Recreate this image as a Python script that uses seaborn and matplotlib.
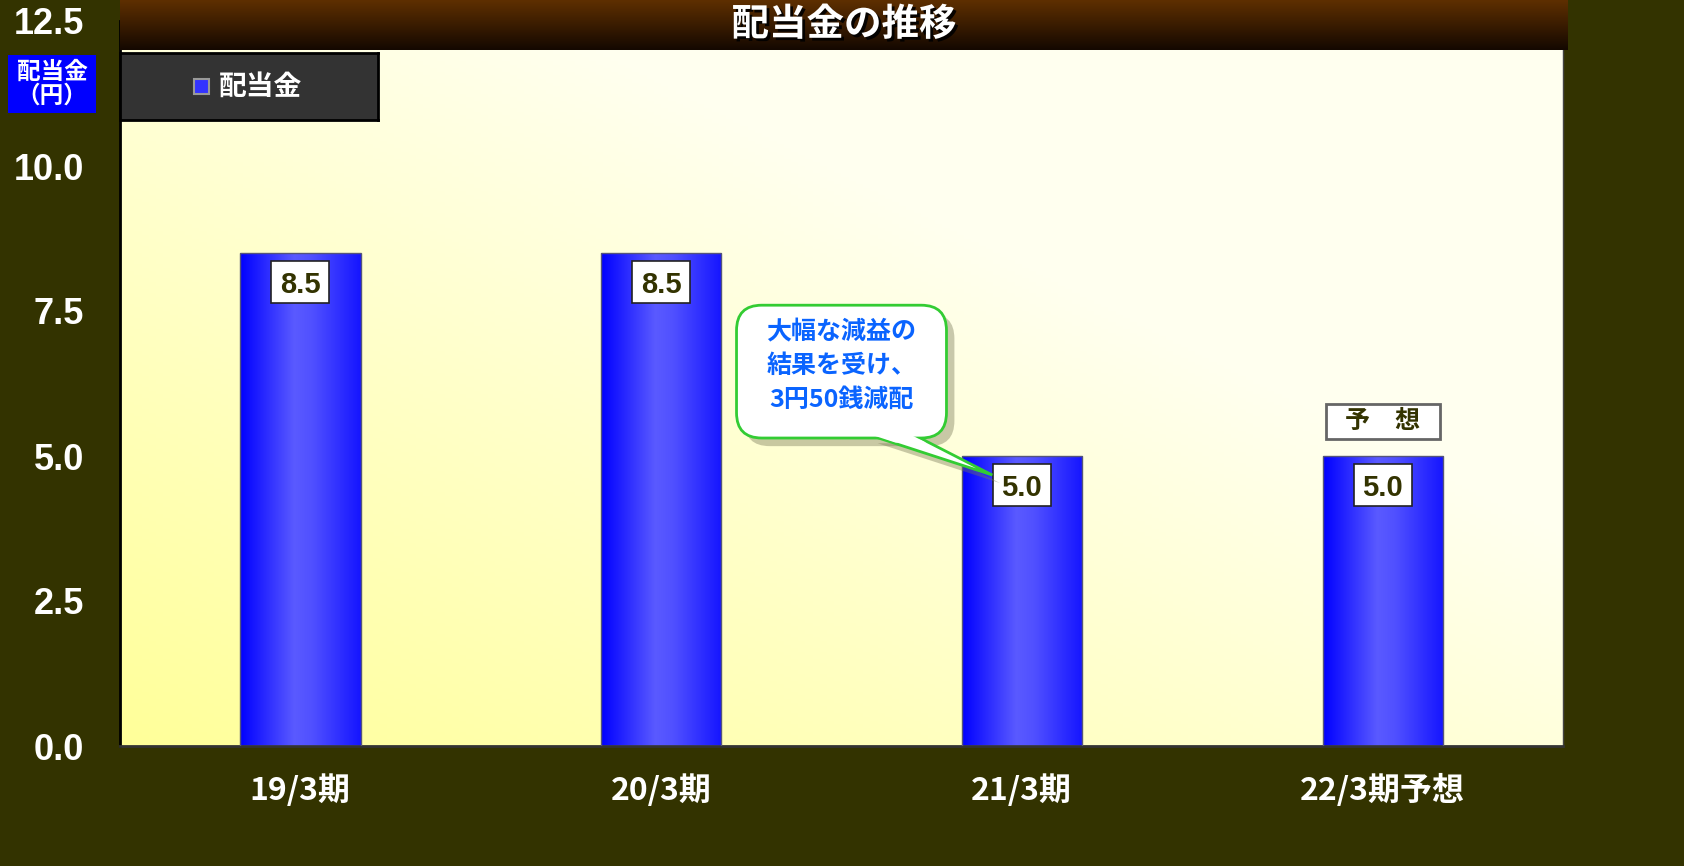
import numpy as np
import matplotlib
matplotlib.use('Agg')
import matplotlib.pyplot as plt
import seaborn as sns
from matplotlib.patches import Rectangle, FancyBboxPatch, Polygon
from matplotlib.colors import LinearSegmentedColormap
import matplotlib.patheffects as pe

# data
categories = ['19/3期', '20/3期', '21/3期', '22/3期予想']
dividend = [8.5, 8.5, 5.0, 5.0]
yticks = [0.0, 2.5, 5.0, 7.5, 10.0, 12.5]
series_name = '配当金'
title = '配当金の推移'
ylabel = '配当金\n（円）'
note = '大幅な減益の\n結果を受け、\n3円50銭減配'
forecast = '予　想'

sns.set_style('white')
plt.rcParams['font.family'] = ['Noto Sans CJK JP', 'DejaVu Sans']
num_font = ['Liberation Sans', 'DejaVu Sans']

W, H = 1684, 866
fig = plt.figure(figsize=(W / 100, H / 100), dpi=100, facecolor='#333300')
ax = fig.add_axes([120 / W, 120 / H, 1443 / W, 725 / H])

# plot background, diagonal yellow gradient
u = np.linspace(0, 1, 200)
uu, vv = np.meshgrid(u, u)
t = np.clip((uu + vv) / 1.3, 0, 1)[..., None]
c0 = np.array([1.0, 1.0, 0.60])
c1 = np.array([1.0, 1.0, 0.94])
bg = c0 * (1 - t) + c1 * t
ax.imshow(bg, extent=[-0.5, 3.5, 0, 12.5], origin='lower', aspect='auto', zorder=0)

sns.barplot(x=categories, y=dividend, color='#2a2aff', width=1 / 3, saturation=1,
            errorbar=None, edgecolor='#55557a', linewidth=1, ax=ax, zorder=3)

# horizontal gradient on bars
bar_cmap = LinearSegmentedColormap.from_list(
    'bar', [(0, '#0000ff'), (0.45, '#5a5aff'), (0.6, '#5050ff'), (1, '#1515ff')])
for p in ax.patches:
    x0, w, h = p.get_x(), p.get_width(), p.get_height()
    p.set_facecolor('none')
    ax.imshow(np.linspace(0, 1, 256)[None, :], cmap=bar_cmap, extent=[x0, x0 + w, 0, h],
              aspect='auto', zorder=2)

ax.set_xlim(-0.5, 3.5)
ax.set_ylim(0, 12.5)
ax.set_xlabel('')
ax.set_ylabel('')

# value labels
for i, v in enumerate(dividend):
    ax.add_patch(Rectangle((i - 0.0805, v - 0.5 - 0.362), 0.161, 0.724, fc='white',
                           ec='#222222', lw=1.2, zorder=4))
    ax.text(i, v - 0.5, f'{v:.1f}', ha='center', va='center_baseline', fontsize=21,
            fontweight='bold', color='#333300', family=num_font, zorder=5)

# forecast tag
ax.add_patch(Rectangle((3 - 0.158, 5.6 - 0.30), 0.316, 0.60, fc='white', ec='#666666',
                       lw=2, zorder=4))
ax.text(3, 5.6, forecast, ha='center', va='center', fontsize=18, fontweight='bold',
        color='#333300', zorder=5)

# callout
bx0, bx1, by0, by1 = 2 - 0.791, 2 - 0.209, 5.31, 7.60
tip = (1.918, 4.672)
base = (1.578, 1.702)
sx, sy = 0.022, 0.14
style = 'round,pad=0,rounding_size=0.07'
ax.add_patch(FancyBboxPatch((bx0 + sx, by0 - sy), bx1 - bx0, by1 - by0, boxstyle=style,
                            mutation_aspect=6.22, fc='#777755', ec='none', alpha=0.4, zorder=5))
ax.add_patch(Polygon([(base[0] + sx, by0 - sy + 0.05), (base[1] + sx, by0 - sy + 0.05),
                      (tip[0] + sx, tip[1] - sy)], fc='#777755', ec='none', alpha=0.4, zorder=5))
ax.add_patch(Polygon([(base[0], by0 + 0.05), (base[1], by0 + 0.05), tip], fc='white',
                     ec='#33cc33', lw=2, zorder=6))
ax.add_patch(FancyBboxPatch((bx0, by0), bx1 - bx0, by1 - by0, boxstyle=style,
                            mutation_aspect=6.22, fc='white', ec='#33cc33', lw=2, zorder=6))


def edge_x(xa, y, yb):
    f = (yb - y) / (yb - tip[1])
    return xa + (tip[0] - xa) * f


ya, yb2 = by0 + 0.04, by0 - 0.08
cover = [(edge_x(base[0], ya, by0 + 0.05) + 0.008, ya), (edge_x(base[1], ya, by0 + 0.05) - 0.008, ya),
         (edge_x(base[1], yb2, by0 + 0.05) - 0.008, yb2), (edge_x(base[0], yb2, by0 + 0.05) + 0.008, yb2)]
ax.add_patch(Polygon(cover, fc='white', ec='none', zorder=7))
ax.text(2 - 0.5, 6.55, note, ha='center', va='center', fontsize=18, fontweight='bold',
        color='#0a64ff', linespacing=1.5, zorder=8)

# axes styling
ax.spines['top'].set_visible(False)
ax.spines['left'].set_color('black')
ax.spines['left'].set_linewidth(2)
ax.spines['bottom'].set_color('#333333')
ax.spines['bottom'].set_linewidth(2)
ax.spines['right'].set_color('#444444')
ax.spines['right'].set_linewidth(1)

ax.set_yticks(yticks)
ax.set_yticklabels([f'{v:.1f}' for v in yticks], family=num_font, fontweight='bold',
                   fontsize=26, color='white')
ax.tick_params(axis='y', length=0, pad=26)
ax.set_xticks(range(len(categories)))
ax.set_xticklabels(categories, fontweight='bold', fontsize=23, color='white')
ax.tick_params(axis='x', which='major', length=0, pad=20)
ax.set_xticks([0.5, 1.5, 2.5, 3.5], minor=True)
ax.tick_params(axis='x', which='minor', direction='in', length=7, width=1.5, color='black')

# title bar
tax = fig.add_axes([120 / W, 1 - 50 / H, 1448 / W, 50 / H])
tcmap = LinearSegmentedColormap.from_list('title', ['#140800', '#3a1c00', '#5e2f00'])
tax.imshow(np.linspace(0, 1, 100)[:, None], cmap=tcmap, origin='lower', aspect='auto',
           extent=[0, 1, 0, 1])
tax.set_axis_off()
tax.text(0.5, 0.52, title, ha='center', va='center', fontsize=27, fontweight='bold',
         color='white', transform=tax.transAxes,
         path_effects=[pe.withSimplePatchShadow(offset=(2, -2), shadow_rgbFace='black', alpha=0.9)])

# legend box
lax = fig.add_axes([120 / W, 1 - 120 / H, 258 / W, 67 / H], facecolor='#333333')
lax.set_xticks([])
lax.set_yticks([])
for s in lax.spines.values():
    s.set_color('black')
    s.set_linewidth(2)
lax.set_xlim(0, 258)
lax.set_ylim(0, 67)
lax.add_patch(Rectangle((74, 26), 15, 15, fc='#3333ff', ec='#999999', lw=1.5))
lax.text(99, 33.5, series_name, ha='left', va='center', fontsize=20, fontweight='bold',
         color='white')

# y label box
yax = fig.add_axes([8 / W, 1 - 113 / H, 88 / W, 58 / H], facecolor='#0000ff')
yax.set_xticks([])
yax.set_yticks([])
for s in yax.spines.values():
    s.set_visible(False)
yax.text(0.5, 0.5, ylabel, ha='center', va='center', fontsize=17, fontweight='bold',
         color='white', linespacing=1.0, transform=yax.transAxes)

fig.savefig('out.png', dpi=100, facecolor=fig.get_facecolor())
